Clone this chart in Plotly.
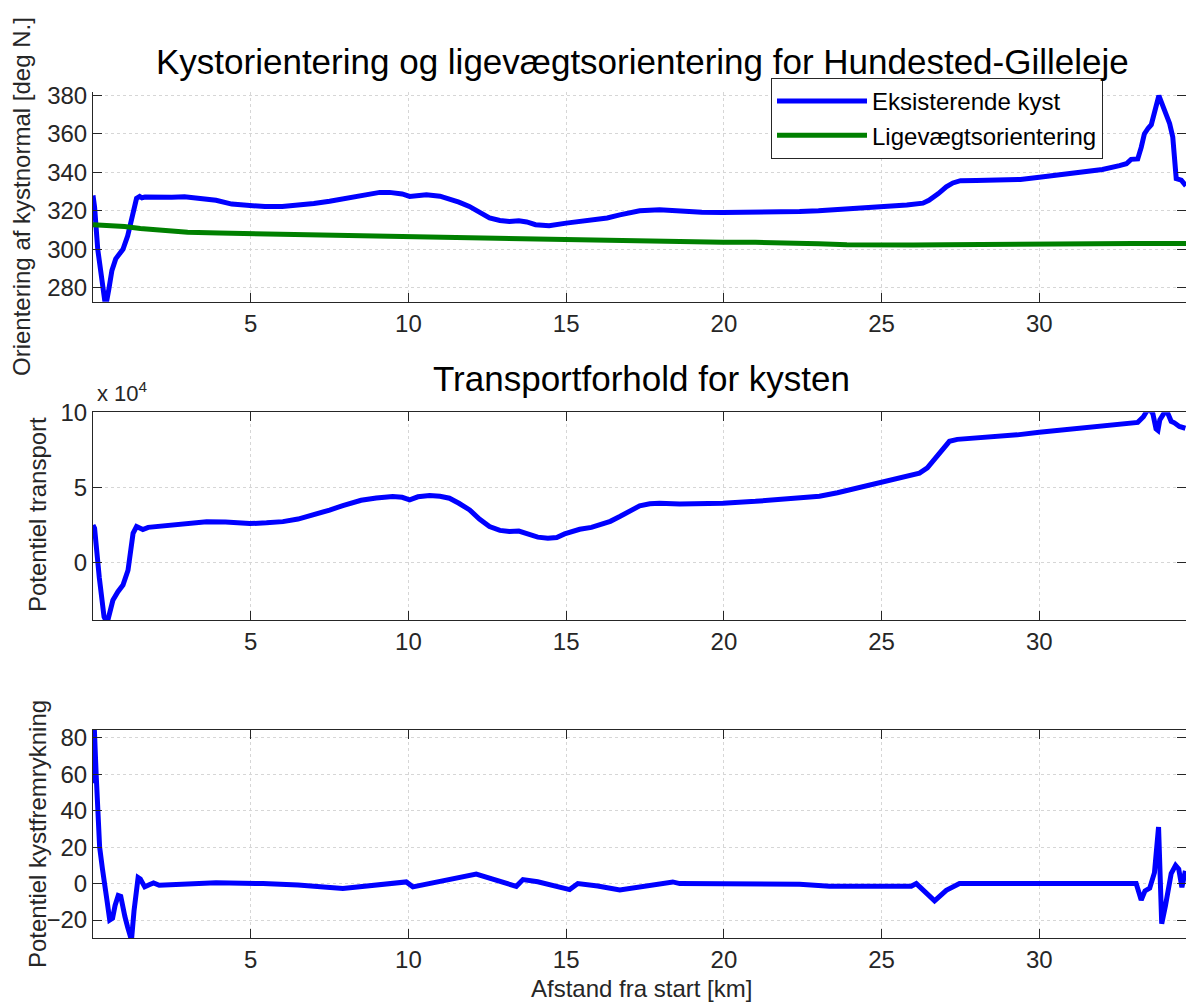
import plotly.graph_objects as go

# ---------------- data ----------------
# Panel 1: coast orientation [deg N.]
km_orient = [0.0, 0.05, 0.15, 0.3, 0.4, 0.5, 0.6, 0.72, 0.85, 0.95, 1.1, 1.25, 1.38, 1.48, 1.55, 1.65,
             2.0, 2.5, 2.9, 3.5, 3.9, 4.4, 5.0, 5.45, 6.0, 6.5, 7.0, 7.5, 8.0, 8.5, 9.09, 9.4, 9.8,
             10.04, 10.3, 10.57, 11.0, 11.3, 11.6, 11.93, 12.25, 12.57, 12.9, 13.2, 13.5, 13.75,
             14.03, 14.46, 15.0, 15.4, 15.94, 16.3, 16.7, 17.0, 17.33, 17.96, 18.6, 19.3, 19.97,
             21.0, 21.77, 22.4, 23.0, 24.0, 24.93, 25.8, 26.31, 26.5, 26.8, 27.05, 27.26, 27.5,
             28.0, 28.8, 29.4, 30.0, 30.8, 31.27, 32.0, 32.54, 32.76, 32.91, 33.12, 33.23, 33.33,
             33.45, 33.55, 33.79, 34.02, 34.13, 34.23, 34.34, 34.5, 34.65]
orient_coast = [328, 322, 300, 278, 270, 279, 289, 295, 298.5, 300, 307, 318, 326.5, 327.5, 326.8, 327.2,
                327, 327, 327.3, 326.5, 325.5, 323.5, 322.6, 322.2, 322.3, 322.8, 323.8, 325, 326.5, 328,
                329.6, 329.6, 328.8, 327.5, 328, 328.3, 327.6, 326.3, 324.5, 322.3, 319.3, 316.3, 315,
                314.4, 314.8, 314.2, 312.8, 312.2, 313.6, 314.4, 315.3, 316.3, 317.9, 319, 320, 320.5,
                319.7, 319.3, 319.1, 319.1, 319.3, 319.6, 320, 321, 322, 323, 324, 325.5, 329, 332.5,
                334.5, 335.7, 335.8, 335.8, 336.3, 337.5, 339, 339.6, 341.5, 343.5, 344.5, 346.8, 347,
                353, 360, 363, 364.8, 380, 369, 365.5, 358.5, 336.8, 336, 333]

km_equil = [0.0, 0.5, 1.0, 1.5, 2.0, 2.5, 3.0, 4.0, 5.0, 6.0, 7.0, 8.0, 9.07, 10.0, 11.0, 12.0, 13.0,
            14.0, 15.0, 16.0, 17.0, 18.0, 19.0, 19.97, 21.0, 21.77, 22.4, 23.0, 23.9, 25.0, 26.0,
            27.0, 28.0, 29.0, 30.0, 31.0, 32.0, 33.0, 34.0, 34.65]
orient_equil = [312.7, 312.4, 311.8, 310.8, 310.0, 309.3, 308.8, 308.4, 308.1, 307.8, 307.5, 307.1, 306.5,
                306.2, 305.9, 305.6, 305.4, 305.2, 304.9, 304.7, 304.4, 304.1, 303.8, 303.6, 303.6,
                303.5, 303.2, 302.8, 302.3, 302.1, 302.2, 302.4, 302.6, 302.7, 302.8, 302.9, 302.9,
                303.0, 303.0, 303.0]

# Panel 2: potential transport [x 10^4]
km_transport = [0.0, 0.05, 0.2, 0.35, 0.45, 0.55, 0.63, 0.79, 0.95, 1.11, 1.2, 1.27, 1.38, 1.58, 1.75,
                2.0, 2.5, 3.0, 3.6, 4.2, 4.97, 5.5, 6.02, 6.5, 7.08, 7.5, 7.92, 8.5, 8.98, 9.5, 9.8,
                10.04, 10.3, 10.67, 11.0, 11.3, 11.6, 11.94, 12.25, 12.57, 12.9, 13.2, 13.5, 13.84,
                14.1, 14.42, 14.7, 14.95, 15.2, 15.43, 15.8, 16.06, 16.4, 16.7, 17.0, 17.33, 17.65,
                17.96, 18.6, 19.3, 19.97, 21.0, 21.77, 22.4, 23.03, 23.6, 24.3, 24.93, 25.6, 26.2,
                26.45, 26.7, 26.95, 27.15, 27.4, 27.68, 28.5, 29.3, 30.0, 30.7, 31.27, 32.2, 33.12,
                33.3, 33.4, 33.5, 33.6, 33.7, 33.76, 33.82, 33.91, 34.0, 34.07, 34.18, 34.28, 34.44,
                34.63]
transport_1e4 = [2.5, 2.3, -1.0, -3.6, -4.0, -3.3, -2.5, -1.93, -1.48, -0.5, 0.7, 1.95, 2.4, 2.2, 2.35,
                 2.4, 2.5, 2.6, 2.73, 2.7, 2.6, 2.65, 2.73, 2.9, 3.2, 3.5, 3.8, 4.15, 4.3, 4.4, 4.35,
                 4.18, 4.38, 4.47, 4.42, 4.29, 3.95, 3.51, 2.9, 2.4, 2.15, 2.07, 2.1, 1.84, 1.7,
                 1.62, 1.68, 1.91, 2.1, 2.22, 2.35, 2.51, 2.75, 3.07, 3.45, 3.78, 3.92, 3.96, 3.91,
                 3.92, 3.96, 4.08, 4.18, 4.33, 4.42, 4.65, 4.98, 5.33, 5.65, 5.96, 6.3, 6.9, 7.6,
                 8.07, 8.2, 8.24, 8.35, 8.5, 8.67, 8.82, 8.94, 9.15, 9.33, 9.7, 10.05, 10.2, 9.9,
                 8.9, 8.8, 9.5, 9.9, 10.1, 9.95, 9.4, 9.3, 9.06, 8.94]

# Panel 3: potential coast advance
km_advance = [0.0, 0.04, 0.1, 0.21, 0.3, 0.37, 0.45, 0.53, 0.62, 0.7, 0.8, 0.88, 0.95, 1.01, 1.1, 1.22,
              1.3, 1.43, 1.5, 1.64, 1.8, 1.92, 2.1, 3.0, 3.9, 5.39, 6.5, 7.92, 8.8, 9.93, 10.14,
              11.0, 11.94, 12.15, 13.42, 13.63, 14.1, 15.11, 15.37, 16.0, 16.7, 18.38, 18.6, 20.0,
              22.4, 23.35, 25.94, 26.1, 26.68, 27.05, 27.47, 30.0, 33.07, 33.23, 33.35, 33.5,
              33.65, 33.78, 33.88, 34.0, 34.1, 34.18, 34.32, 34.42, 34.52, 34.63]
advance = [55, 86, 60, 20, 8, 1, -10, -20, -19, -12, -6.5, -7, -14, -18, -24, -31,
           -15, 3.3, 2.5, -1.8, -0.5, 0.4, -0.9, -0.5, 0.4, 0, -0.8, -2.7, -1.0, 0.9, -1.8,
           0.9, 4.2, 5.2, -1.5, 2.2, 1.0, -3.3, 0, -1.3, -3.5, 0.9, 0, -0.2,
           -0.4, -1.5, -1.5, 0, -9.5, -3.7, 0, 0, 0, -9, -4, -2.5,
           6, 31, -22, -12, 0, 5.5, 10, 8, -2, 7]

x_ticks = [5, 10, 15, 20, 25, 30]
orient_ticks = [280, 300, 320, 340, 360, 380]
transport_ticks = [0, 5, 10]
advance_ticks = [-20, 0, 20, 40, 60, 80]

# ---------------- figure ----------------
W, H = 1186, 1003
L = 93
FONT = "Liberation Sans, Arial, sans-serif"
AX = "#262626"
BLUE = "#0000ff"
GREEN = "#008000"
GRID = "#d6d6d6"

fig = go.Figure()
fig.add_trace(go.Scatter(x=km_orient, y=orient_coast, mode="lines", name="Eksisterende kyst",
                         line=dict(color=BLUE, width=5), xaxis="x", yaxis="y"))
fig.add_trace(go.Scatter(x=km_equil, y=orient_equil, mode="lines", name="Ligevægtsorientering",
                         line=dict(color=GREEN, width=5), xaxis="x", yaxis="y"))
fig.add_trace(go.Scatter(x=km_transport, y=transport_1e4, mode="lines", showlegend=False,
                         line=dict(color=BLUE, width=5), xaxis="x2", yaxis="y2"))
fig.add_trace(go.Scatter(x=km_advance, y=advance, mode="lines", showlegend=False,
                         line=dict(color=BLUE, width=5), xaxis="x3", yaxis="y3"))


def py(p):
    return 1 - p / H


def px(p):
    return (p - L) / (W - L)


common_x = dict(range=[0, 34.65], tickvals=x_ticks, ticks="inside", ticklen=9, tickcolor=AX,
                showline=True, linecolor=AX, linewidth=1, showgrid=True, gridcolor=GRID,
                griddash="dot", gridwidth=1, zeroline=False, tickfont=dict(size=24, color=AX),
                domain=[0, 1], automargin=False)
common_y = dict(ticks="inside", ticklen=9, tickcolor=AX, showline=True, linecolor=AX, linewidth=1,
                mirror="ticks", showgrid=True, gridcolor=GRID, griddash="dot", gridwidth=1,
                zeroline=False, tickfont=dict(size=24, color=AX), automargin=False)

fig.update_layout(
    width=W, height=H,
    margin=dict(l=L, r=0, t=0, b=0),
    paper_bgcolor="white", plot_bgcolor="white",
    font=dict(family=FONT, color=AX),
    xaxis=dict(common_x, anchor="y", mirror=False),
    yaxis=dict(common_y, anchor="x", domain=[py(301.7), py(91.7)], range=[272.7, 382],
               tickvals=orient_ticks),
    xaxis2=dict(common_x, anchor="y2", mirror="allticks"),
    yaxis2=dict(common_y, anchor="x2", domain=[py(620), py(412.3)], range=[-3.81, 10],
                tickvals=transport_ticks),
    xaxis3=dict(common_x, anchor="y3", mirror="allticks"),
    yaxis3=dict(common_y, anchor="x3", domain=[py(938.3), py(730)], range=[-30, 84.2],
                tickvals=advance_ticks),
    legend=dict(x=px(771), y=py(78), xanchor="left", yanchor="top", bgcolor="white",
                bordercolor=AX, borderwidth=1, font=dict(size=24, color="black", family=FONT),
                tracegroupgap=0, itemwidth=90),
    showlegend=True,
)

annotations = [
    dict(text="Kystorientering og ligevægtsorientering for Hundested-Gilleleje", x=px(642), y=py(62),
         font=dict(size=35, color="black")),
    dict(text="Transportforhold for kysten", x=px(641), y=py(378), font=dict(size=35, color="black")),
    dict(text="Orientering af kystnormal [deg N.]", x=px(22), y=py(197), textangle=-90,
         font=dict(size=24, color=AX)),
    dict(text="Potentiel transport", x=px(37), y=py(515), textangle=-90, font=dict(size=24, color=AX)),
    dict(text="Potentiel kystfremrykning", x=px(37), y=py(834), textangle=-90,
         font=dict(size=24, color=AX)),
    dict(text="Afstand fra start [km]", x=px(641), y=py(988), font=dict(size=24, color=AX)),
]
for a in annotations:
    a.update(xref="paper", yref="paper", showarrow=False, xanchor="center", yanchor="middle")
    fig.add_annotation(**a)

fig.add_annotation(text="x 10<sup>4</sup>", x=px(95), y=py(392), xref="paper", yref="paper",
                   showarrow=False, xanchor="left", yanchor="middle", font=dict(size=22, color=AX))

fig.write_html("out.html")
